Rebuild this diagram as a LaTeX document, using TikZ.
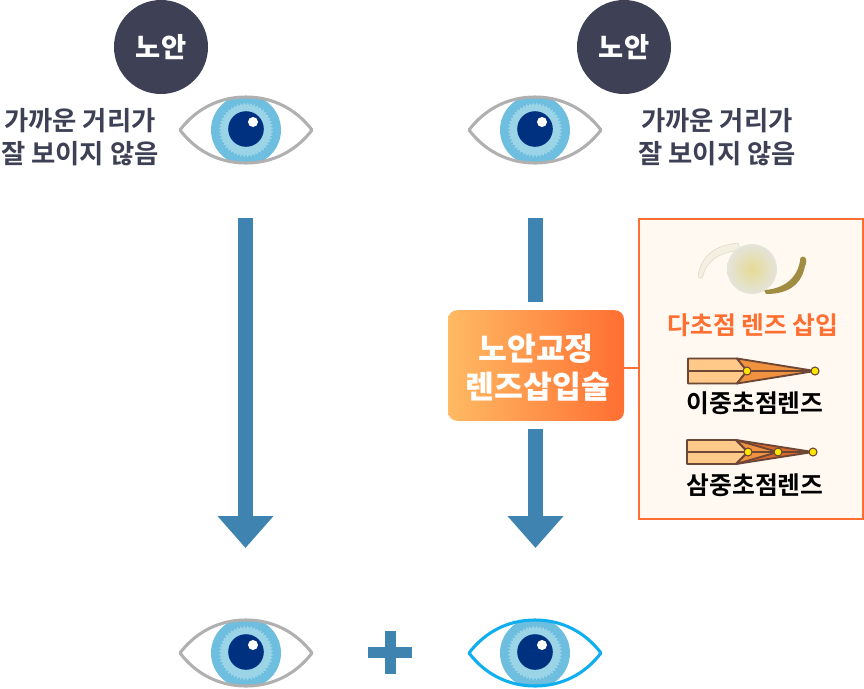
\documentclass[tikz,border=0pt]{standalone}
\usepackage{fontspec}
\setmainfont{Noto Sans CJK KR Bold}[BoldFont=Noto Sans CJK KR Black]
\usetikzlibrary{arrows.meta}
\definecolor{navycirc}{HTML}{3E4155}
\definecolor{labelink}{HTML}{3E4155}
\definecolor{flow}{HTML}{3F83B0}
\definecolor{irisout}{HTML}{6EBEE0}
\definecolor{irismid}{HTML}{9AD4E6}
\definecolor{pupil}{HTML}{003080}
\definecolor{lidgray}{HTML}{B0B0B0}
\definecolor{lidblue}{HTML}{0FAFEF}
\definecolor{accent}{HTML}{FF6F31}
\definecolor{boxlight}{HTML}{FFBA63}
\definecolor{panelbg}{HTML}{FFF9F2}
\definecolor{barlight}{HTML}{FFC98A}
\definecolor{wedge}{HTML}{F0923F}
\definecolor{wedgedark}{HTML}{D9682C}
\definecolor{edgebrown}{HTML}{6E4636}
\definecolor{focus}{HTML}{FFE600}
\definecolor{hapticpale}{HTML}{F3F0E2}
\definecolor{hapticline}{HTML}{DDD9C6}
\definecolor{hapticolive}{HTML}{A08C42}
\definecolor{opticcore}{HTML}{E6DA96}
\definecolor{opticrim}{HTML}{E4E4DA}
\tikzset{
  x=0.75pt, y=-0.75pt,
  badge/.style={circle, fill=navycirc, minimum size=70.5pt, inner sep=0pt, text=white, font=\bfseries\fontsize{20.5}{20.5}\selectfont},
  caption/.style={text=labelink, align=center, inner sep=0pt, font=\fontsize{19.8}{25.2}\selectfont},
  flowline/.style={line width=11.25pt, draw=flow},
  flowhead/.style={flowline, -{Triangle[length=24pt,width=40.5pt]}},
  lenslabel/.style={text=#1, inner sep=0pt, font=\fontsize{18.6}{20}\selectfont},
  edge/.style={draw=edgebrown, line width=1.4pt, line join=round},
  dot/.style={circle, fill=focus, draw=edgebrown, line width=.8pt, minimum size=6pt, inner sep=0pt},
  pics/eye/.style={code={
    \begin{scope}
      \clip (-66,0) .. controls (-50,-21) and (-27,-33) .. (0,-33) .. controls (27,-33) and (50,-21) .. (66,0)
            .. controls (50,21) and (27,33) .. (0,33) .. controls (-27,33) and (-50,21) .. (-66,0) -- cycle;
      \fill[irisout] (0,0) circle[radius=35];
      % toothed ring: radius alternates between neighbouring points
      \fill[irismid] plot[samples=97, domain=0:96] ({(24.6+2.8*mod(round(\x),2))*cos(3.75*\x)},{(24.6+2.8*mod(round(\x),2))*sin(3.75*\x)}) -- cycle;
    \end{scope}
    \fill[pupil] (0,-1) circle[radius=17.8];
    \fill[white] (7,-8) circle[radius=5];
    \draw[draw=#1, line width=2.3pt, line join=round]
      (-66,0) .. controls (-50,-21) and (-27,-33) .. (0,-33) .. controls (27,-33) and (50,-21) .. (66,0)
      .. controls (50,21) and (27,33) .. (0,33) .. controls (-27,33) and (-50,21) .. (-66,0) -- cycle;
  }}
}
\begin{document}
\begin{tikzpicture}
\useasboundingbox (0,0) rectangle (864,689);

% Upper row: badges, eyes and notes
\node[badge] (badgeL) at (161,47) {노안};
\node[badge] (badgeR) at (624,47) {노안};
\pic at (246,130) {eye=lidgray};
\pic at (535,130) {eye=lidgray};
\node[caption] (noteL) at (80,137) {가까운 거리가\\잘 보이지 않음};
\node[caption] (noteR) at (717,137) {가까운 거리가\\잘 보이지 않음};

% Panel with the lens types
\node[draw=accent, fill=panelbg, line width=1.5pt, minimum width=167.5pt, minimum height=225pt, inner sep=0pt] (panel) at (751,368.5) {};

% Procedure box
\node[rounded corners=7pt, left color=boxlight, right color=accent, minimum width=132pt, minimum height=83pt, inner sep=0pt, text=white, align=center, font=\bfseries\fontsize{23.5}{29}\selectfont, text depth=0pt] (proc) at (536,365.5) {\raisebox{-1.2pt}{노안교정}\\\raisebox{-1.2pt}{렌즈삽입술}\hspace*{-3pt}};
\draw[accent, line width=1.5pt] (proc.east |- 0,368) -- (panel.west |- 0,368);

% Flow arrows
\coordinate (startL) at (245.5,218);
\coordinate (endL) at (245.5,548);
\coordinate (startR) at (535.5,218);
\coordinate (gapA) at (535.5,302);
\coordinate (gapB) at (535.5,429);
\coordinate (endR) at (535.5,548);
\draw[flowhead] (startL) -- (endL);
\draw[flowline] (startR) -- (gapA);
\draw[flowhead] (gapB) -- (endR);

% Lens with haptics
\filldraw[fill=hapticpale, draw=hapticline, line width=.4pt] (738,243) .. controls (714,245) and (701,257) .. (698,276)
  .. controls (698,279) and (703,279) .. (703,276) .. controls (706,262) and (717,253) .. (740,250) -- cycle;
\fill[hapticolive] (764,290) .. controls (783,289) and (797,279) .. (800,261)
  .. controls (799,256) and (805,255) .. (806,259) .. controls (807,263) and (805,265) .. (804,270)
  .. controls (800,285) and (788,294) .. (766,294) -- cycle;
\shade[inner color=opticcore, outer color=opticrim] (752,269) circle[radius=25];

\node[lenslabel=accent] (multi) at (753,325) {다초점 렌즈 삽입};

% Bifocal diagram
\coordinate (biTip) at (815,371);
\coordinate (biBack) at (688,371);
\filldraw[edge, fill=barlight] (688,358.5) -- (737,358.5) -- (747,371) -- (737,383.5) -- (688,383.5) -- cycle;
\filldraw[edge, fill=wedge] (737,358.5) -- (biTip) -- (737,383.5) -- (747,371) -- cycle;
\draw[edge] (biBack) -- (biTip);
\node[dot] (biA) at (747,371) {};
\node[dot] (biB) at (biTip) {};
\node[lenslabel=black] (bifocal) at (755,403) {이중초점렌즈};

% Trifocal diagram
\coordinate (triTip) at (813,452);
\coordinate (triBack) at (687,452);
\coordinate (triMid) at (778,452);
\filldraw[edge, fill=barlight] (687,440) -- (736,440) -- (748,452) -- (736,464) -- (687,464) -- cycle;
\filldraw[edge, fill=wedgedark] (736,440) -- (triTip) -- (736,464) -- (748,452) -- cycle;
\filldraw[edge, fill=wedge] (736,440) -- (triMid) -- (736,464) -- (748,452) -- cycle;
\draw[edge] (triBack) -- (triTip);
\node[dot] (triA) at (748,452) {};
\node[dot] (triB) at (triMid) {};
\node[dot] (triC) at (triTip) {};
\node[lenslabel=black] (trifocal) at (755,485) {삼중초점렌즈};

% Lower row: result
\pic at (246,653) {eye=lidgray};
\pic at (535,653) {eye=lidblue};
\fill[flow] (384.5,631) rectangle (395.5,674);
\fill[flow] (368,647) rectangle (412,658);
\end{tikzpicture}
\end{document}
